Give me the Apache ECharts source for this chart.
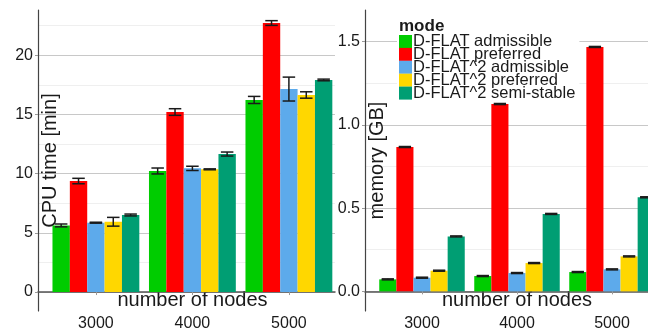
<!DOCTYPE html>
<html>
<head>
<meta charset="utf-8">
<script src="https://cdn.jsdelivr.net/npm/echarts@6/dist/echarts.min.js"></script>
<style>
  html, body { margin: 0; padding: 0; background: #fff; }
  #chart { width: 648px; height: 333px; }
</style>
</head>
<body>
<div id="chart"></div>
<script>
// node counts on the x axis
const nodes = [3000, 4000, 5000]
const modes = ['D-FLAT admissible', 'D-FLAT preferred', 'D-FLAT^2 admissible', 'D-FLAT^2 preferred', 'D-FLAT^2 semi-stable']
const colors = ['#00cc00', '#ff0000', '#5daaeb', '#ffd700', '#009e73']

// CPU time [min], one row per mode (3000, 4000, 5000)
const cpuMean = [
  [5.63, 10.23, 16.23],
  [9.38, 15.21, 22.73],
  [5.86, 10.45, 17.15],
  [5.94, 10.37, 16.65],
  [6.51, 11.66, 17.92],
]
const cpuErr = [
  [0.12, 0.25, 0.3],
  [0.23, 0.28, 0.2],
  [0.04, 0.18, 1.01],
  [0.37, 0.04, 0.27],
  [0.08, 0.17, 0.07],
]

// memory [GB]
const memMean = [
  [0.072, 0.092, 0.116],
  [0.867, 1.126, 1.468],
  [0.082, 0.110, 0.132],
  [0.124, 0.170, 0.210],
  [0.330, 0.465, 0.565],
]
const memErr = [
  [0.003, 0.003, 0.003],
  [0.003, 0.004, 0.003],
  [0.003, 0.003, 0.003],
  [0.003, 0.003, 0.003],
  [0.003, 0.003, 0.003],
]

const cpuTicks = [0, 5, 10, 15, 20]
const cpuMinor = [2.5, 7.5, 12.5, 17.5, 22.5]
const memTicks = [0, 0.5, 1, 1.5]
const memMinor = [0.25, 0.75, 1.25]

const FONT = '"Liberation Sans", Arial, sans-serif'
const TEXT = '#1a1a1a'
const BAR_W = 180 // 0.9 of a 1000-node slot, split over 5 modes

const chart = echarts.init(document.getElementById('chart'), null, { renderer: 'canvas' })

function xAxisFor(gridIndex, max, namePad) {
  return {
    type: 'value',
    gridIndex,
    min: 2400,
    max,
    name: 'number of nodes',
    nameLocation: 'middle',
    nameGap: -21,
    nameMoveOverlap: false,
    nameTextStyle: { fontSize: 20, color: TEXT, fontFamily: FONT, padding: [0, 0, 0, namePad] },
    axisLine: { show: true, lineStyle: { color: '#555', width: 1.5 } },
    axisTick: { show: true, length: 3, customValues: nodes, lineStyle: { color: '#999' } },
    axisLabel: { customValues: nodes, fontSize: 16, color: TEXT, fontFamily: FONT, margin: 5, formatter: (v) => String(v) },
    splitLine: { show: false },
  }
}

function yAxisFor(gridIndex, min, max, ticks, name, fmt) {
  return {
    type: 'value',
    gridIndex,
    min,
    max,
    name,
    nameLocation: 'middle',
    nameGap: -22,
    nameMoveOverlap: false,
    nameTextStyle: { fontSize: 20, color: TEXT, fontFamily: FONT },
    axisLine: { show: true, lineStyle: { color: '#444', width: 1.2 } },
    axisTick: { show: true, length: 3, customValues: ticks, lineStyle: { color: '#999' } },
    axisLabel: { customValues: ticks, fontSize: 16, color: TEXT, fontFamily: FONT, margin: 5, formatter: fmt },
    splitLine: { show: true, lineStyle: { color: '#c8c8c8', width: 1 } },
  }
}

function minorAxisFor(gridIndex, min, max, ticks) {
  return {
    type: 'value',
    gridIndex,
    position: 'left',
    min,
    max,
    axisLine: { show: false },
    axisTick: { show: false, customValues: ticks },
    axisLabel: { show: false, customValues: ticks },
    splitLine: { show: true, lineStyle: { color: '#efefef', width: 1 } },
    z: 0,
  }
}

function errRender(modeIdx) {
  return function (params, api) {
    const x = api.value(0)
    const bw = api.size([BAR_W, 0])[0]
    const off = (modeIdx - 2) * bw
    const lo = api.coord([x, api.value(1)])
    const hi = api.coord([x, api.value(2)])
    const cx = lo[0] + off
    const half = bw * 0.36
    const style = { stroke: '#1a1a1a', lineWidth: 1.5 }
    return {
      type: 'group',
      children: [
        { type: 'line', shape: { x1: cx, y1: lo[1], x2: cx, y2: hi[1] }, style },
        { type: 'line', shape: { x1: cx - half, y1: lo[1], x2: cx + half, y2: lo[1] }, style },
        { type: 'line', shape: { x1: cx - half, y1: hi[1], x2: cx + half, y2: hi[1] }, style },
      ],
    }
  }
}

const series = []
const panels = [
  { mean: cpuMean, err: cpuErr, x: 0, y: 0 },
  { mean: memMean, err: memErr, x: 1, y: 2 },
]
panels.forEach((p) => {
  modes.forEach((m, i) => {
    series.push({
      name: m,
      type: 'bar',
      xAxisIndex: p.x,
      yAxisIndex: p.y,
      barWidth: '18%',
      barGap: '0%',
      itemStyle: { color: colors[i] },
      data: nodes.map((n, k) => [n, p.mean[i][k]]),
      z: 2,
    })
  })
  modes.forEach((m, i) => {
    series.push({
      type: 'custom',
      xAxisIndex: p.x,
      yAxisIndex: p.y,
      renderItem: errRender(i),
      data: nodes.map((n, k) => [n, p.mean[i][k] - p.err[i][k], p.mean[i][k] + p.err[i][k]]),
      z: 5,
      silent: true,
    })
  })
})

const option = {
  animation: false,
  backgroundColor: '#fff',
  textStyle: { fontFamily: FONT },
  title: {
    text: 'mode',
    left: 399,
    top: 18,
    padding: 0,
    textStyle: { fontSize: 17, fontWeight: 'bold', color: TEXT, fontFamily: FONT },
  },
  legend: {
    data: modes,
    orient: 'vertical',
    left: 397,
    top: 32,
    padding: [1, 4, 1, 2],
    backgroundColor: '#fff',
    icon: 'rect',
    itemWidth: 13,
    itemHeight: 13,
    itemGap: -4.1,
    selectedMode: false,
    textStyle: { fontSize: 16.5, color: TEXT, fontFamily: FONT, padding: [0, 0, 0, -4] },
    z: 10,
  },
  grid: [
    { left: 38, top: 10, width: 297, height: 301, outerBoundsMode: 'none', containLabel: false },
    { left: 365, top: 10, width: 283, height: 301, outerBoundsMode: 'none', containLabel: false },
  ],
  xAxis: [
    xAxisFor(0, 2400 + 297 / 96.5 * 1000, 12),
    xAxisFor(1, 2400 + 283 / 95 * 1000, 21),
  ],
  yAxis: [
    yAxisFor(0, -1.6, 23.83, cpuTicks, 'CPU time [min]', (v) => String(v)),
    minorAxisFor(0, -1.6, 23.83, cpuMinor),
    yAxisFor(1, -0.118, 1.69, memTicks, 'memory [GB]', (v) => v.toFixed(1)),
    minorAxisFor(1, -0.118, 1.69, memMinor),
  ],
  series,
}

chart.setOption(option)
</script>
</body>
</html>
